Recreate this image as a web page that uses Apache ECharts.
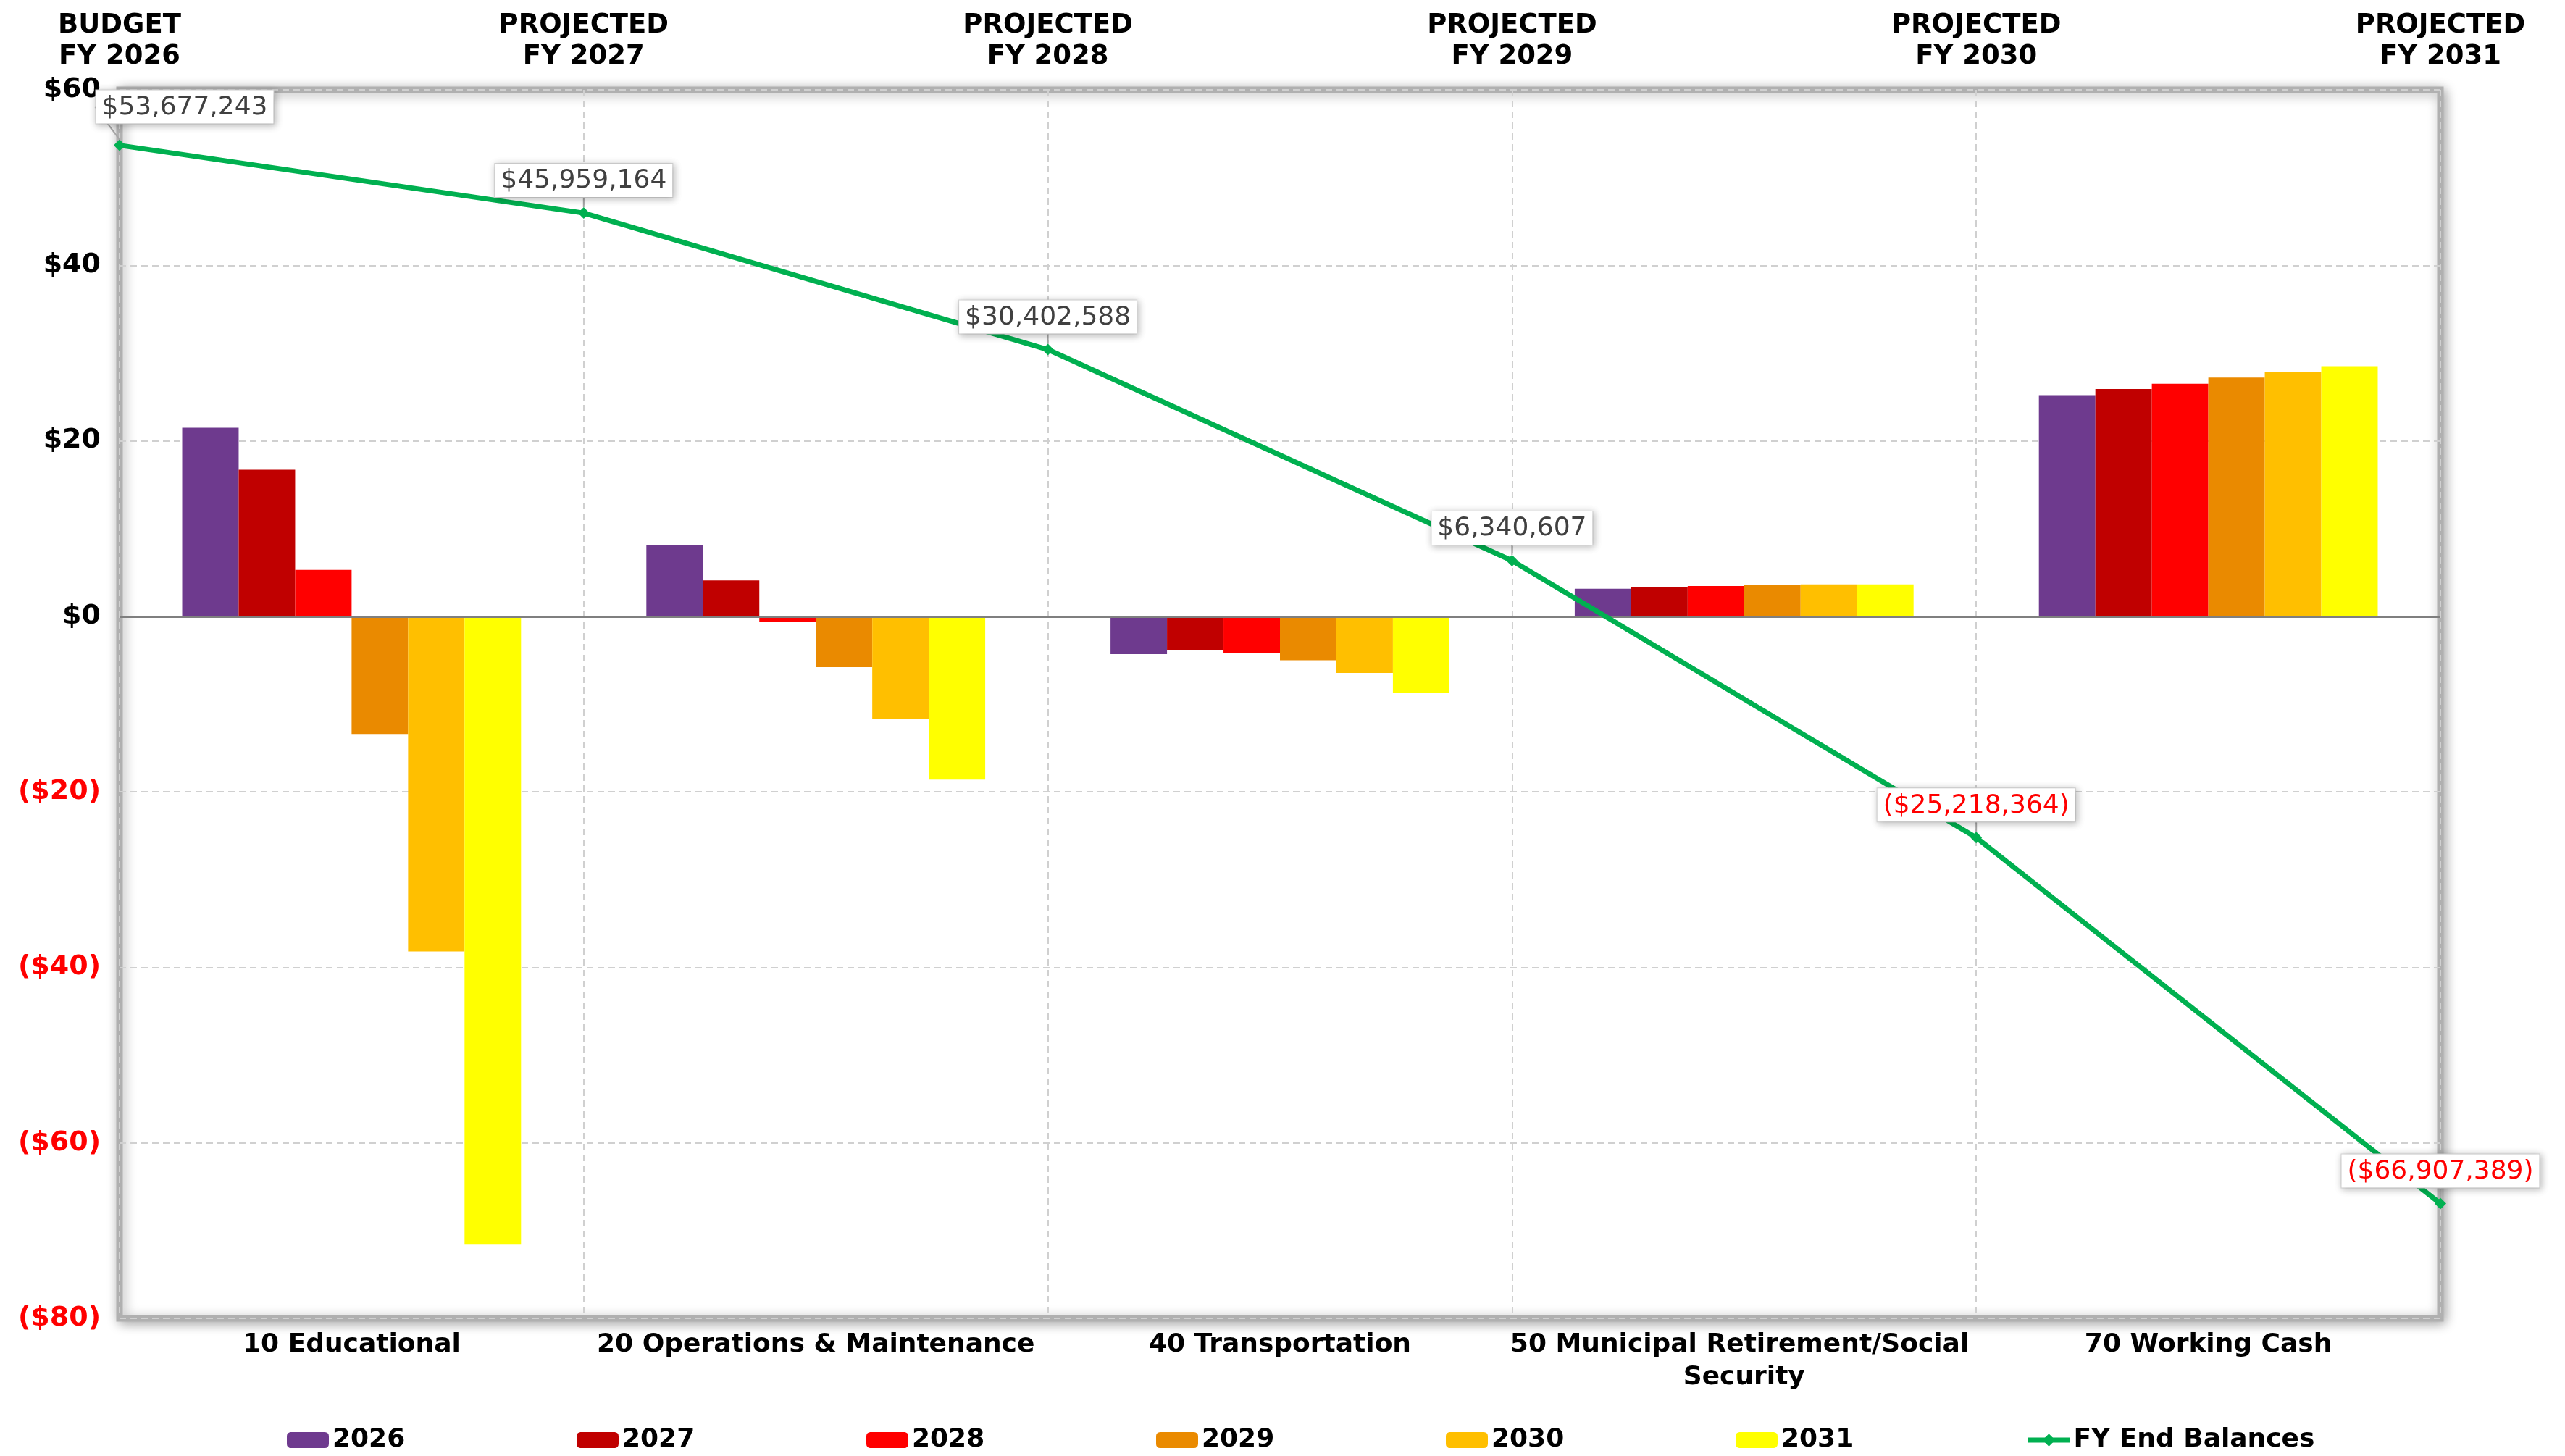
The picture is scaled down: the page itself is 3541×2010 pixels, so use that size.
<!DOCTYPE html>
<html>
<head>
<meta charset="utf-8">
<script src="https://cdn.jsdelivr.net/npm/echarts@6/dist/echarts.min.js"></script>
<style>
  html, body { margin: 0; padding: 0; background: #fff; }
  #chart { width: 3541px; height: 2010px; }
</style>
</head>
<body>
<div id="chart"></div>
<script>
// fund categories on the bottom axis
const funds = [
  '10 Educational',
  '20 Operations & Maintenance',
  '40 Transportation',
  '50 Municipal Retirement/Social Security',
  '70 Working Cash'
];

// fiscal-year labels on the top axis
const fyLabels = [
  'BUDGET\nFY 2026',
  'PROJECTED\nFY 2027',
  'PROJECTED\nFY 2028',
  'PROJECTED\nFY 2029',
  'PROJECTED\nFY 2030',
  'PROJECTED\nFY 2031'
];

// surplus / (deficit) per fund, $ millions
const fy2026 = [21.5, 8.1, -4.3, 3.15, 25.2];
const fy2027 = [16.7, 4.1, -3.9, 3.35, 25.9];
const fy2028 = [5.3, -0.6, -4.15, 3.45, 26.5];
const fy2029 = [-13.4, -5.8, -5.0, 3.55, 27.2];
const fy2030 = [-38.2, -11.7, -6.45, 3.65, 27.8];
const fy2031 = [-71.6, -18.6, -8.75, 3.65, 28.5];

// fiscal year end balances, $
const endBalances = [53677243, 45959164, 30402588, 6340607, -25218364, -66907389];

// y axis ticks ($ millions)
const yMin = -80;
const yMax = 60;
const yStep = 20;

const FONT = 'DejaVu Sans';

const barSeries = [
  { name: '2026', data: fy2026, color: '#6E3A8E' },
  { name: '2027', data: fy2027, color: '#C00000' },
  { name: '2028', data: fy2028, color: '#FF0000' },
  { name: '2029', data: fy2029, color: '#EA8A00' },
  { name: '2030', data: fy2030, color: '#FFBF00' },
  { name: '2031', data: fy2031, color: '#FFFF00' }
];
const lineName = 'FY End Balances';

const money = v => {
  const s = '$' + Math.abs(v).toLocaleString('en-US');
  return v < 0 ? '(' + s + ')' : s;
};

const chart = echarts.init(document.getElementById('chart'));

const series = barSeries.map((s, i) => ({
  name: s.name,
  type: 'bar',
  xAxisIndex: 0,
  yAxisIndex: 0,
  data: s.data,
  barGap: '0%',
  barCategoryGap: '27%',
  itemStyle: { color: s.color },
  markLine: i === 0 ? {
    silent: true,
    symbol: ['none', 'none'],
    label: { show: false },
    lineStyle: { color: '#7F7F7F', type: 'solid', width: 3 },
    data: [{ yAxis: 0 }]
  } : undefined
}));

series.push({
  name: lineName,
  type: 'line',
  xAxisIndex: 1,
  yAxisIndex: 0,
  z: 5,
  data: endBalances.map(v => ({
    value: v / 1e6,
    label: { color: v < 0 ? '#FF0000' : '#404040' }
  })),
  symbol: 'diamond',
  symbolSize: 16,
  lineStyle: { color: '#00B050', width: 7 },
  itemStyle: { color: '#00B050' },
  label: {
    show: true,
    position: 'top',
    distance: 14,
    formatter: p => money(endBalances[p.dataIndex]),
    fontFamily: FONT,
    fontSize: 36,
    backgroundColor: '#FFFFFF',
    borderColor: '#D9D9D9',
    borderWidth: 1,
    padding: [6, 8, 4, 8],
    shadowBlur: 10,
    shadowColor: 'rgba(0,0,0,0.25)',
    shadowOffsetX: 2,
    shadowOffsetY: 2
  },
  labelLine: { show: true, lineStyle: { color: '#A6A6A6', width: 2 } },
  labelLayout: p => (p.dataIndex === 0 ? { dx: 90, dy: -8 } : {})
});

// one legend per entry so the items sit on an even 400px pitch
const legendNames = barSeries.map(s => s.name).concat([lineName]);
const legends = legendNames.map((n, i) => ({
  data: [n],
  left: 391 + i * 400,
  top: 1965,
  itemWidth: 58,
  itemHeight: 22,
  itemGap: 0,
  lineStyle: n === lineName ? { width: 7 } : undefined,
  textStyle: { fontFamily: FONT, fontWeight: 'bold', fontSize: 36, color: '#000' }
}));

const option = {
  animation: false,
  backgroundColor: '#FFFFFF',
  textStyle: { fontFamily: FONT },
  grid: {
    left: 165,
    right: 172,
    top: 124,
    bottom: 190,
    containLabel: false,
    outerBoundsMode: 'none',
    show: true,
    backgroundColor: '#FFFFFF',
    borderColor: '#B0B0B0',
    borderWidth: 9,
    shadowBlur: 16,
    shadowColor: 'rgba(0,0,0,0.3)',
    shadowOffsetX: 3,
    shadowOffsetY: 3
  },
  legend: legends,
  xAxis: [
    {
      type: 'category',
      position: 'bottom',
      data: funds,
      axisLine: { show: false },
      axisTick: { show: false },
      splitLine: { show: true, lineStyle: { color: '#D0D0D0', type: [9, 6], width: 2 } },
      axisLabel: {
        interval: 0,
        margin: 14,
        color: '#000',
        fontFamily: FONT,
        fontWeight: 'bold',
        fontSize: 36,
        lineHeight: 45,
        width: 660,
        overflow: 'break'
      }
    },
    {
      type: 'category',
      position: 'top',
      data: fyLabels,
      boundaryGap: false,
      axisLine: { show: false },
      axisTick: { show: false },
      splitLine: { show: false },
      axisLabel: {
        interval: 0,
        margin: 24,
        color: '#000',
        fontFamily: FONT,
        fontWeight: 'bold',
        fontSize: 37,
        lineHeight: 43,
        align: 'center'
      }
    }
  ],
  yAxis: {
    type: 'value',
    min: yMin,
    max: yMax,
    interval: yStep,
    axisLine: { show: false },
    axisTick: { show: false },
    splitLine: { show: true, lineStyle: { color: '#D0D0D0', type: [9, 6], width: 2 } },
    axisLabel: {
      margin: 26,
      color: '#000',
      fontFamily: FONT,
      fontWeight: 'bold',
      fontSize: 38,
      formatter: v => (v < 0 ? '{neg|($' + (-v) + ')}' : '$' + v),
      rich: {
        neg: { color: '#FF0000', fontFamily: FONT, fontWeight: 'bold', fontSize: 38 }
      }
    }
  },
  series: series
};

chart.setOption(option);
</script>
</body>
</html>
